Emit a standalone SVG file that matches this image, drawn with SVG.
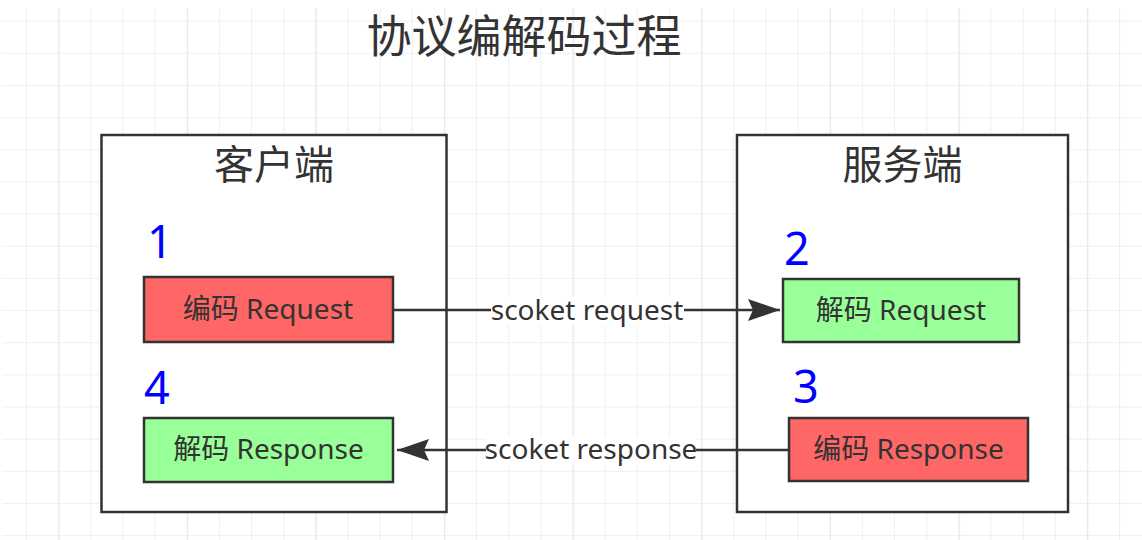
<svg xmlns="http://www.w3.org/2000/svg" width="1142" height="540" viewBox="0 0 1142 540">
<defs>
<style>
.cjk{font-family:"Noto Sans","Noto Sans CJK SC",sans-serif;fill:#333;}
.num{font-family:"Noto Sans",sans-serif;fill:#0000ff;font-size:45px;}
.frame{fill:#fff;stroke:#333;stroke-width:2.5;}
.red{fill:#ff6666;stroke:#333;stroke-width:2.5;}
.green{fill:#99ff99;stroke:#333;stroke-width:2.5;}
.lbl{font-size:28px;text-anchor:middle;}
.edge{stroke:#333;stroke-width:2.5;fill:none;}
</style>
<pattern id="minor" patternUnits="userSpaceOnUse" x="26" y="20.7" width="32.15" height="32.15">
<path d="M0,0 V32.15 M0,0 H32.15" stroke="#efefef" stroke-width="2" fill="none"/>
</pattern>
<pattern id="major" patternUnits="userSpaceOnUse" x="58.3" y="0" width="128.6" height="540">
<path d="M0,0 V540" stroke="#e9e9e9" stroke-width="2.5" fill="none"/>
</pattern>
<marker id="arrow" markerUnits="userSpaceOnUse" markerWidth="36" markerHeight="26" refX="32" refY="12" orient="auto" viewBox="0 0 36 26">
<path d="M0,1 L32,12 L0,23 L5,12 Z" fill="#333"/>
</marker>
</defs>
<rect x="0" y="0" width="1142" height="540" fill="#fff"/>
<rect x="2" y="8" width="1140" height="532" fill="url(#minor)"/>
<rect x="2" y="8" width="1140" height="532" fill="url(#major)"/>

<g id="title">
<text class="cjk" x="524" y="53" font-size="45" text-anchor="middle">协议编解码过程</text>
</g>

<g id="client">
<rect class="frame" x="101.5" y="135" width="345" height="377"/>
<text class="cjk" x="274" y="179" font-size="40" text-anchor="middle">客户端</text>
</g>
<g id="server">
<rect class="frame" x="737" y="135" width="331" height="377"/>
<text class="cjk" x="902.5" y="179" font-size="40" text-anchor="middle">服务端</text>
</g>

<g id="step1">
<text class="num" x="147" y="258">1</text>
<rect class="red" x="144" y="277" width="249" height="65"/>
<text class="cjk lbl" x="268" y="319">编码 Request</text>
</g>
<g id="step2">
<text class="num" x="784" y="265">2</text>
<rect class="green" x="783" y="279" width="236" height="63"/>
<text class="cjk lbl" x="901" y="320">解码 Request</text>
</g>
<g id="step3">
<text class="num" x="793" y="403">3</text>
<rect class="red" x="789" y="418" width="239" height="63"/>
<text class="cjk lbl" x="908.5" y="459">编码 Response</text>
</g>
<g id="step4">
<text class="num" x="144" y="404">4</text>
<rect class="green" x="144" y="418" width="249" height="64"/>
<text class="cjk lbl" x="268.5" y="459">解码 Response</text>
</g>

<g id="connectors">
<path class="edge" d="M393,310 H780" marker-end="url(#arrow)"/>
<rect x="491" y="297" width="193" height="28" fill="#fff"/>
<text class="cjk lbl" x="587" y="320">scoket request</text>
<path class="edge" d="M789,450 H397" marker-end="url(#arrow)"/>
<rect x="486" y="437" width="210" height="28" fill="#fff"/>
<text class="cjk lbl" x="591" y="459">scoket response</text>
</g>
</svg>
